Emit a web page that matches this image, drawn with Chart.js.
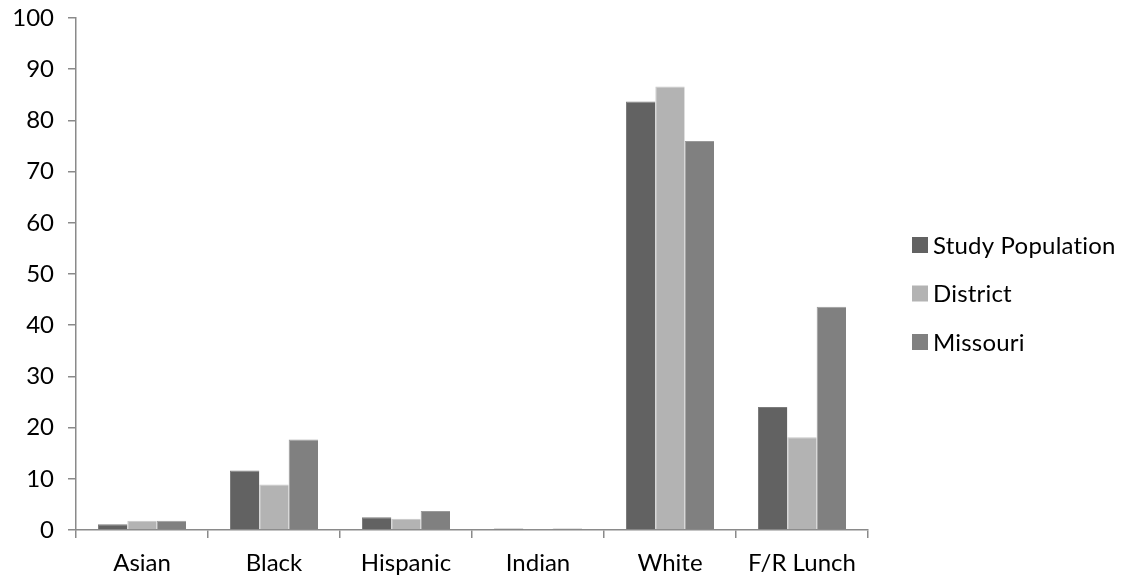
<!DOCTYPE html>
<html>
<head>
<meta charset="utf-8">
<script src="https://cdn.jsdelivr.net/npm/chart.js@4/dist/chart.umd.min.js"></script>
<style>
  html, body { margin: 0; padding: 0; background: #fff; }
  #wrap { width: 1122px; height: 577px; position: relative; }
</style>
</head>
<body>
<div id="wrap"><canvas id="chart"></canvas></div>
<script>
// Enrollment shares (%) by group
const categories = ['Asian', 'Black', 'Hispanic', 'Indian', 'White', 'F/R Lunch'];
const studyPopulation = [1.1, 11.6, 2.5, 0.3, 83.7, 24.0];
const district = [1.8, 8.9, 2.2, 0.2, 86.6, 18.1];
const missouri = [1.8, 17.7, 3.7, 0.3, 76.0, 43.6];
const seriesNames = ['Study Population', 'District', 'Missouri'];
const yTicks = [0, 10, 20, 30, 40, 50, 60, 70, 80, 90, 100];

const fills = ['#626262', '#b3b3b3', '#808080'];
const edges = ['#7c7c7c', '#c6c6c6', '#9a9a9a'];
const axisColor = '#8a8a8a';
const FONT = 'Lato';
const FONT_SIZE = 24;

Chart.defaults.font.family = FONT;
Chart.defaults.font.size = FONT_SIZE;
Chart.defaults.color = '#000';

// Legend drawn to the right of the plot as a vertical list
const sideLegend = {
  id: 'sideLegend',
  afterDraw(chart) {
    const ctx = chart.ctx;
    const box = 16;
    const x = 912;
    const y0 = 245;
    const step = 48.5;
    ctx.save();
    ctx.font = FONT_SIZE + 'px ' + FONT;
    // a hair of tracking keeps the "ti" pair as separate letters
    if ('letterSpacing' in ctx) ctx.letterSpacing = '0.2px';
    ctx.textBaseline = 'middle';
    ctx.textAlign = 'left';
    chart.data.datasets.forEach((ds, i) => {
      const cy = y0 + i * step;
      ctx.fillStyle = ds.backgroundColor;
      ctx.fillRect(x, cy - box / 2, box, box);
      ctx.fillStyle = '#000';
      ctx.fillText(ds.label, x + box + 5, cy + 1);
    });
    ctx.restore();
  }
};

const seriesValues = [studyPopulation, district, missouri];

new Chart(document.getElementById('chart'), {
  type: 'bar',
  data: {
    labels: categories,
    datasets: seriesNames.map((name, i) => ({
      label: name,
      data: seriesValues[i],
      backgroundColor: fills[i],
      borderColor: edges[i],
      borderWidth: { top: 1, left: 1, right: 0, bottom: 0 },
      borderSkipped: 'bottom',
      categoryPercentage: 3 / 4.5,
      barPercentage: 1
    }))
  },
  options: {
    responsive: true,
    maintainAspectRatio: false,
    animation: false,
    layout: { padding: { top: 18, right: 254, left: 0, bottom: 0 } },
    plugins: {
      legend: { display: false },
      tooltip: { enabled: false }
    },
    scales: {
      x: {
        grid: {
          display: true,
          drawOnChartArea: false,
          drawTicks: true,
          tickLength: 8,
          color: axisColor,
          lineWidth: 1.5,
          offset: true
        },
        border: { display: true, color: axisColor, width: 1.5 },
        ticks: { padding: 11, color: '#000', font: { size: FONT_SIZE }, maxRotation: 0 },
        afterFit(scale) {
          scale.height = 47;
          scale.paddingLeft = 0;
          scale.paddingRight = 0;
        }
      },
      y: {
        min: 0,
        max: 100,
        afterBuildTicks(scale) { scale.ticks = yTicks.map(v => ({ value: v })); },
        grid: {
          display: true,
          drawOnChartArea: false,
          drawTicks: true,
          tickLength: 8,
          color: axisColor,
          lineWidth: 1.5
        },
        border: { display: true, color: axisColor, width: 1.5 },
        ticks: { padding: 14, color: '#000', font: { size: FONT_SIZE } },
        afterFit(scale) {
          scale.width = 76;
          scale.paddingTop = 0;
          scale.paddingBottom = 0;
        }
      }
    }
  },
  plugins: [sideLegend]
});
</script>
</body>
</html>
